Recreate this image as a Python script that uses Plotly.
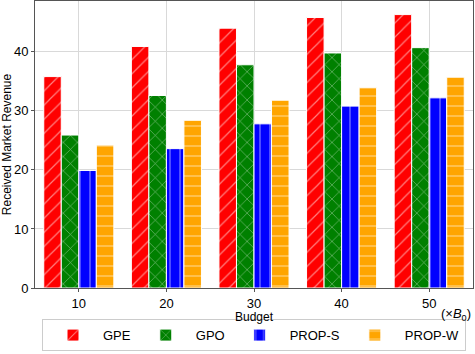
import plotly.graph_objects as go

budgets = ['10', '20', '30', '40', '50']
gpe = [35.8, 40.9, 44.0, 45.8, 46.3]
gpo = [25.9, 32.6, 37.8, 39.8, 40.7]
prop_s = [19.9, 23.6, 27.8, 30.8, 32.2]
prop_w = [24.2, 28.4, 31.8, 33.9, 35.7]

series = [
    ('GPE', gpe, 'red', '/'),
    ('GPO', gpo, 'green', 'x'),
    ('PROP-S', prop_s, 'blue', '|'),
    ('PROP-W', prop_w, 'orange', '-'),
]

fig = go.Figure()

for name, vals, color, shape in series:
    fig.add_trace(go.Bar(
        x=budgets,
        y=vals,
        name=name,
        marker=dict(
            color=color,
            line=dict(color='white', width=1),
            pattern=dict(shape=shape, fgcolor='white', bgcolor=color,
                         size=10, solidity=0.12, fillmode='overlay'),
        ),
    ))

fig.update_layout(
    width=475,
    height=354,
    margin=dict(l=35, r=2, t=1, b=66),
    barmode='group',
    bargap=0.2,
    bargroupgap=0,
    plot_bgcolor='white',
    paper_bgcolor='white',
    font=dict(family='Liberation Sans, Arial, sans-serif', size=13, color='black'),
    showlegend=True,
    legend=dict(
        orientation='h',
        xanchor='center', x=0.5,
        yanchor='bottom', y=-0.22,
        bordercolor='#cccccc', borderwidth=1,
        font=dict(size=13),
        itemwidth=50,
    ),
    annotations=[
        dict(
            text='Budget',
            xref='paper', yref='paper',
            x=0.5, y=-0.1,
            xanchor='center', yanchor='middle',
            showarrow=False,
            font=dict(size=12),
        ),
        dict(
            text='(×<i>B</i><sub>0</sub>)',
            xref='paper', yref='paper',
            x=1.0, y=-0.055,
            xanchor='right', yanchor='top',
            showarrow=False,
            font=dict(size=13),
        ),
    ],
)

fig.update_xaxes(
    showgrid=True, gridcolor='#d9d9d9',
    showline=True, linecolor='#555555', mirror=True,
    ticks='outside', ticklen=3, tickcolor='#555555',
)
fig.update_yaxes(
    title=dict(text='Received Market Revenue', font=dict(size=12), standoff=4),
    range=[0, 48.6],
    dtick=10,
    showgrid=True, gridcolor='#d9d9d9',
    showline=True, linecolor='#555555', mirror=True,
    ticks='outside', ticklen=3, tickcolor='#555555',
    zeroline=False,
)

fig.write_html("out.html", config={'displayModeBar': False},
               post_script="document.body.style.margin='0';")
